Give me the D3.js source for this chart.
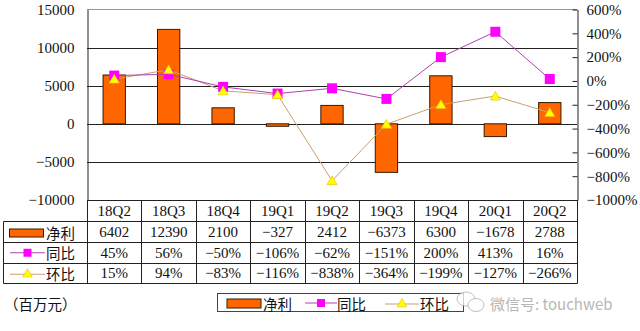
<!DOCTYPE html>
<html>
<head>
<meta charset="utf-8">
<script src="https://cdn.jsdelivr.net/npm/d3@7"></script>
<style>
  html, body { margin: 0; padding: 0; background: #fff; }
  svg { display: block; }
  .num { font-family: "Liberation Serif", "DejaVu Serif", serif; font-size: 15px; fill: #111; }
  .cjk { font-family: "Noto Sans CJK SC", sans-serif; font-size: 14.5px; fill: #111; }
</style>
</head>
<body>
<svg id="chart" width="640" height="331"></svg>
<script>
// Quarterly net profit (million yuan) with YoY and QoQ growth
const quarters = ["18Q2", "18Q3", "18Q4", "19Q1", "19Q2", "19Q3", "19Q4", "20Q1", "20Q2"];
const netProfit = [6402, 12390, 2100, -327, 2412, -6373, 6300, -1678, 2788];
const yoy = [45, 56, -50, -106, -62, -151, 200, 413, 16];
const qoq = [15, 94, -83, -116, -838, -364, -199, -127, -266];
const leftTicks = [15000, 10000, 5000, 0, -5000, -10000];
const rightTicks = [600, 400, 200, 0, -200, -400, -600, -800, -1000];
const seriesNames = ["净利", "同比", "环比"];

const C = { bar: "#FF6600", barStroke: "#3a1a00", yoy: "#FF00FF", yoyLine: "#B040B0", qoq: "#FFFF00", qoqLine: "#C8A070", grid: "#222" };

const svg = d3.select("#chart");
const plot = { left: 87, right: 577, top: 9.5, bottom: 200 };

const x = d3.scaleBand().domain(quarters).range([plot.left, plot.right]);
const yL = d3.scaleLinear().domain([-10000, 15000]).range([plot.bottom, plot.top]);
const yR = d3.scaleLinear().domain([-1000, 600]).range([plot.bottom, plot.top]);
const fmt = d3.format("d");

// top frame line and horizontal gridlines
svg.append("line").attr("x1", plot.left).attr("x2", plot.right)
  .attr("y1", yL(15000)).attr("y2", yL(15000)).attr("stroke", "#999");
svg.append("g").selectAll("line").data([10000, 5000, 0, -5000]).join("line")
  .attr("x1", plot.left).attr("x2", plot.right)
  .attr("y1", d => Math.round(yL(d)) + 0.5).attr("y2", d => Math.round(yL(d)) + 0.5)
  .attr("stroke", C.grid).attr("stroke-width", 1);

// left axis
const axL = svg.append("g").attr("transform", `translate(${plot.left + 0.5},0)`)
  .call(d3.axisLeft(yL).tickValues(leftTicks).tickSize(0).tickPadding(13).tickFormat(fmt));
axL.select(".domain").attr("stroke", "#222");
axL.selectAll("text").attr("class", "num").attr("font-family", null).attr("font-size", null);

// right axis (labels left-aligned, ticks pointing inward)
const axR = svg.append("g").attr("transform", `translate(${plot.right + 0.5},0)`)
  .call(d3.axisRight(yR).tickValues(rightTicks).tickSize(0).tickPadding(9).tickFormat(d => fmt(d) + "%"));
axR.select(".domain").attr("stroke", "#222");
axR.selectAll("text").attr("class", "num").attr("font-family", null).attr("font-size", null);
axR.selectAll(".tick").append("line").attr("x1", -5).attr("x2", 0).attr("stroke", "#222");

// bars
const bw = x.bandwidth() * 0.41;
svg.append("g").selectAll("rect").data(netProfit).join("rect")
  .attr("x", (d, i) => x(quarters[i]) + (x.bandwidth() - bw) / 2)
  .attr("y", d => yL(Math.max(0, d)))
  .attr("width", bw)
  .attr("height", d => Math.abs(yL(d) - yL(0)))
  .attr("fill", C.bar).attr("stroke", C.barStroke).attr("stroke-width", 1);

const cx = i => x(quarters[i]) + x.bandwidth() / 2;

// QoQ line
svg.append("path").datum(qoq)
  .attr("d", d3.line().x((d, i) => cx(i)).y(d => yR(d)))
  .attr("fill", "none").attr("stroke", C.qoqLine).attr("stroke-width", 1);
// YoY line
svg.append("path").datum(yoy)
  .attr("d", d3.line().x((d, i) => cx(i)).y(d => yR(d)))
  .attr("fill", "none").attr("stroke", C.yoyLine).attr("stroke-width", 1);

// YoY square markers
svg.append("g").selectAll("rect").data(yoy).join("rect")
  .attr("x", (d, i) => cx(i) - 5).attr("y", d => yR(d) - 5)
  .attr("width", 10).attr("height", 10).attr("fill", C.yoy);

// QoQ triangle markers
const tri = d3.symbol().type(d3.symbolTriangle).size(45);
svg.append("g").selectAll("path").data(qoq).join("path")
  .attr("transform", (d, i) => `translate(${cx(i)},${yR(d) + 1})`)
  .attr("d", tri).attr("fill", C.qoq).attr("stroke", "#E8C000").attr("stroke-width", 0.6);

// data table
const rowY = [200, 221, 242, 262.5, 283];
const tableLeft = 3.5;
const tg = svg.append("g").attr("stroke", "#222").attr("stroke-width", 1);
rowY.forEach((y, k) => {
  tg.append("line").attr("x1", k === 0 ? plot.left : tableLeft).attr("x2", plot.right + 0.5)
    .attr("y1", Math.round(y) + 0.5).attr("y2", Math.round(y) + 0.5);
});
tg.append("line").attr("x1", tableLeft).attr("x2", tableLeft).attr("y1", 221.5).attr("y2", 283.5);
quarters.concat(["end"]).forEach((q, i) => {
  const xx = i < quarters.length ? x(q) : plot.right;
  tg.append("line").attr("x1", Math.round(xx) + 0.5).attr("x2", Math.round(xx) + 0.5)
    .attr("y1", plot.bottom).attr("y2", 283.5);
});

// category labels
svg.append("g").selectAll("text").data(quarters).join("text")
  .attr("class", "num").attr("x", d => x(d) + x.bandwidth() / 2).attr("y", 210.5)
  .attr("text-anchor", "middle").attr("dominant-baseline", "central").text(d => d);

const rows = [
  netProfit.map(d => fmt(d)),
  yoy.map(d => fmt(d) + "%"),
  qoq.map(d => fmt(d) + "%")
];
rows.forEach((vals, r) => {
  const yc = (rowY[r + 1] + rowY[r + 2]) / 2 + 0.5;
  svg.append("g").selectAll("text").data(vals).join("text")
    .attr("class", "num").attr("x", (d, i) => x(quarters[i]) + x.bandwidth() / 2).attr("y", yc)
    .attr("text-anchor", "middle").attr("dominant-baseline", "central").text(d => d);
});

// legend keys in the table's first column
function keyBar(g, x0, yc, w, h) {
  g.append("rect").attr("x", x0).attr("y", yc - h / 2).attr("width", w).attr("height", h)
    .attr("fill", C.bar).attr("stroke", C.barStroke).attr("stroke-width", 1);
}
function keyYoy(g, x0, yc, w) {
  g.append("line").attr("x1", x0).attr("x2", x0 + w).attr("y1", yc).attr("y2", yc)
    .attr("stroke", C.yoyLine).attr("stroke-width", 1);
  g.append("rect").attr("x", x0 + w / 2 - 4).attr("y", yc - 4).attr("width", 8).attr("height", 8).attr("fill", C.yoy);
}
function keyQoq(g, x0, yc, w) {
  g.append("line").attr("x1", x0).attr("x2", x0 + w).attr("y1", yc).attr("y2", yc)
    .attr("stroke", C.qoqLine).attr("stroke-width", 1);
  g.append("path").attr("transform", `translate(${x0 + w / 2},${yc})`)
    .attr("d", d3.symbol().type(d3.symbolTriangle).size(40)).attr("fill", C.qoq)
    .attr("stroke", "#E8C000").attr("stroke-width", 0.6);
}
const kg = svg.append("g");
const rc = r => (rowY[r + 1] + rowY[r + 2]) / 2 + 0.5;
keyBar(kg, 9.5, rc(0) + 1, 34, 8);
keyYoy(kg, 10, rc(1), 35);
keyQoq(kg, 10, rc(2) + 1, 35);
seriesNames.forEach((n, r) => {
  kg.append("text").attr("class", "cjk").attr("x", 46).attr("y", rc(r))
    .attr("dominant-baseline", "central").text(n);
});

// unit note
svg.append("text").attr("class", "cjk").attr("x", 4).attr("y", 303)
  .attr("dominant-baseline", "central").text("（百万元）");

// bottom legend box
const lg = svg.append("g");
lg.append("rect").attr("x", 217.5).attr("y", 293.5).attr("width", 246).attr("height", 18)
  .attr("fill", "#fff").attr("stroke", "#444").attr("stroke-width", 1);
keyBar(lg, 227, 303.5, 34, 9);
lg.append("text").attr("class", "cjk").attr("x", 263).attr("y", 303)
  .attr("dominant-baseline", "central").text(seriesNames[0]);
keyYoy(lg, 305, 303, 32);
lg.append("text").attr("class", "cjk").attr("x", 337).attr("y", 303)
  .attr("dominant-baseline", "central").text(seriesNames[1]);
keyQoq(lg, 385, 304, 34);
lg.append("text").attr("class", "cjk").attr("x", 420).attr("y", 303)
  .attr("dominant-baseline", "central").text(seriesNames[2]);

// watermark
const wm = svg.append("g").attr("opacity", 0.75);
wm.append("ellipse").attr("cx", 466).attr("cy", 299).attr("rx", 9).attr("ry", 7)
  .attr("fill", "#fff").attr("stroke", "#aaa").attr("stroke-width", 1);
wm.append("ellipse").attr("cx", 476).attr("cy", 305).attr("rx", 8).attr("ry", 6.5)
  .attr("fill", "#fff").attr("stroke", "#aaa").attr("stroke-width", 1);
wm.append("text").attr("x", 490).attr("y", 303).attr("dominant-baseline", "central")
  .attr("font-family", "Noto Sans CJK SC, sans-serif").attr("font-size", 15).attr("fill", "#a0a0a0")
  .text("微信号: touchweb");
</script>
</body>
</html>
